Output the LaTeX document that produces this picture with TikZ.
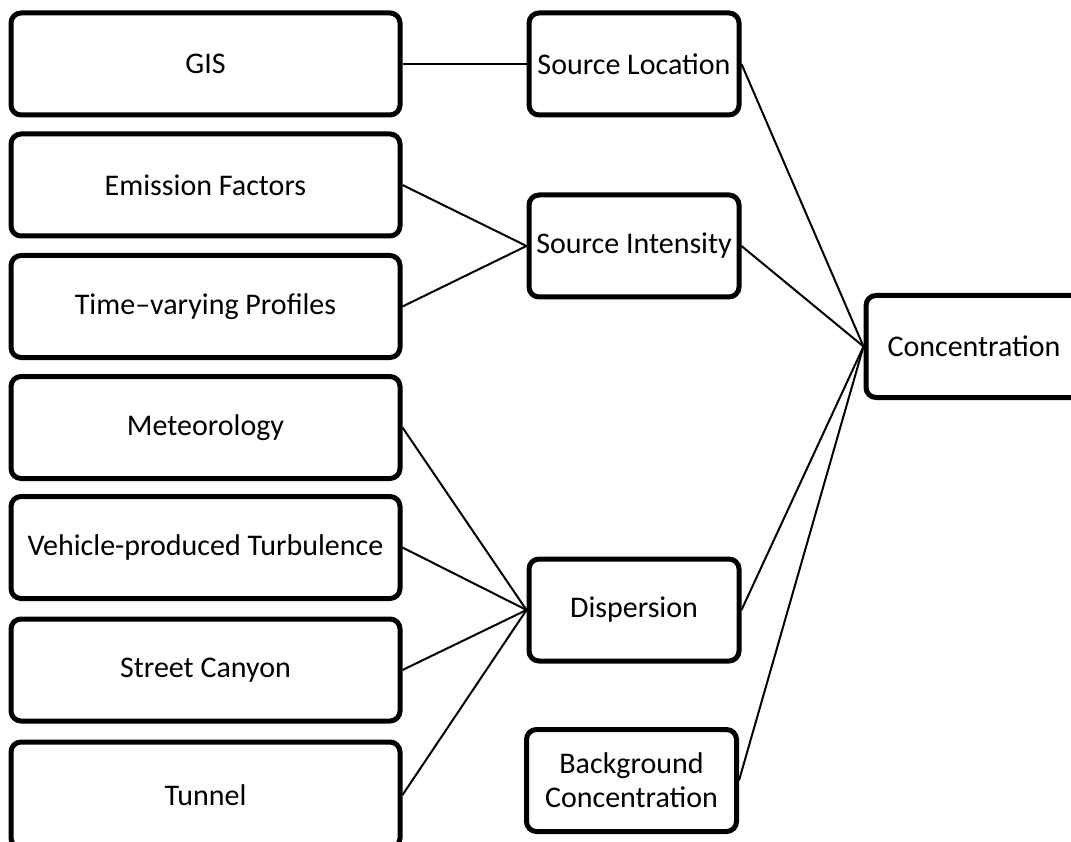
\documentclass[tikz,border=0pt]{standalone}
\usepackage{fontspec}
\setmainfont{Carlito}
\usetikzlibrary{positioning}
\tikzset{
box/.style={
  draw,
  line width=5pt,
  rounded corners=10pt,
  align=center,
  inner sep=0pt,
  font=\fontsize{30}{34}\selectfont
  },
inbox/.style={
  box,
  minimum width=389pt,
  minimum height=102pt
  },
midbox/.style={
  box,
  minimum width=210pt,
  minimum height=102pt
  },
link/.style={line width=2pt}
}

\begin{document}
\begin{tikzpicture}[x=1pt,y=-1pt]
            \useasboundingbox (0,0) rectangle (1071,842);
            % inputs
            \node[inbox] (gis)  at (205.5,64)    {GIS};
            \node[inbox] (emf)  at (205.5,185)   {Emission Factors};
            \node[inbox] (prof) at (205.5,306.5) {Time--varying Profiles};
            \node[inbox] (met)  at (205.5,427.5) {Meteorology};
            \node[inbox] (veh)  at (205.5,547.5) {Vehicle-produced Turbulence};
            \node[inbox] (can)  at (205.5,670)   {Street Canyon};
            \node[inbox,minimum height=106pt] (tun) at (205.5,795) {Tunnel};
            % middle column
            \node[midbox] (loc)  at (634,64)    {Source Location};
            \node[midbox] (intn) at (634,246)   {Source Intensity};
            \node[midbox] (disp) at (634,610)   {Dispersion};
            \node[midbox] (bg)   at (631.5,780.5) {Background\\Concentration};
            \node[midbox,minimum width=216pt] (conc) at (974,346.5) {Concentration};
            % connectors
            \draw[link] (gis.east) -- (loc.west);
            \draw[link] (emf.east) -- (intn.west);
            \draw[link] (prof.east) -- (intn.west);
            \draw[link] (met.east) -- (disp.west);
            \draw[link] (veh.east) -- (disp.west);
            \draw[link] (can.east) -- (disp.west);
            \draw[link] (tun.east) -- (disp.west);
            \draw[link] (loc.east) -- (conc.west);
            \draw[link] (intn.east) -- (conc.west);
            \draw[link] (disp.east) -- (conc.west);
            \draw[link] (bg.east) -- (conc.west);
        \end{tikzpicture}
\end{document}
